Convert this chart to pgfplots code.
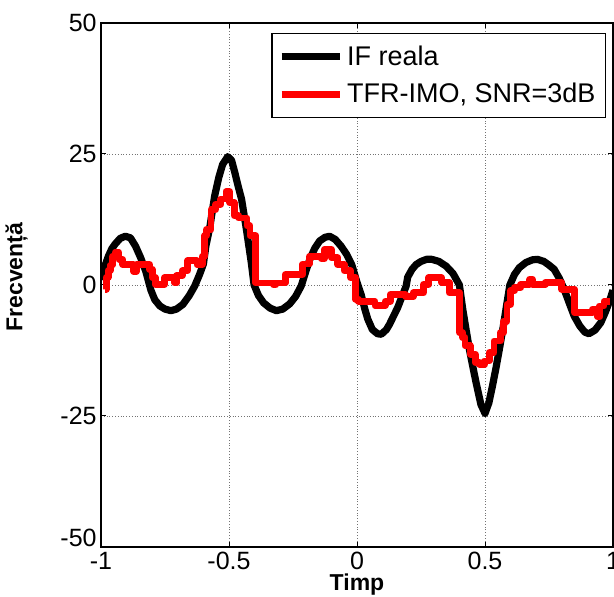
\documentclass[border=0pt]{standalone}
\usepackage{fontspec}
\setmainfont{Liberation Sans}
\usepackage{pgfplots}
\usepackage{pgfplotstable}
\pgfplotsset{compat=1.18}

% IF reala
\pgfplotstableread{
t v
-1.000 1.0
-0.985 3.6
-0.971 5.5
-0.958 6.9
-0.945 7.8
-0.925 8.9
-0.905 9.3
-0.885 9.0
-0.865 7.4
-0.845 5.2
-0.825 2.6
-0.805 -1.0
-0.790 -2.8
-0.770 -4.0
-0.750 -4.6
-0.727 -4.9
-0.705 -4.6
-0.680 -3.7
-0.655 -2.0
-0.634 -0.2
-0.615 2.0
-0.600 4.0
-0.590 7.5
-0.575 11.0
-0.556 17.0
-0.540 20.5
-0.525 23.0
-0.505 24.5
-0.490 23.8
-0.478 21.6
-0.465 19.0
-0.451 16.4
-0.432 10.6
-0.413 4.3
-0.402 0.0
-0.385 -2.0
-0.365 -3.4
-0.340 -4.4
-0.315 -4.9
-0.290 -4.6
-0.263 -3.6
-0.240 -2.2
-0.218 -0.2
-0.200 2.6
-0.185 4.8
-0.165 7.0
-0.146 8.4
-0.125 9.1
-0.107 9.3
-0.085 8.7
-0.062 7.4
-0.040 5.8
-0.020 3.8
0.000 0.5
0.016 -1.8
0.030 -4.5
0.042 -6.5
0.060 -8.5
0.080 -9.3
0.095 -9.4
0.115 -8.5
0.127 -7.5
0.145 -5.7
0.159 -4.3
0.175 -2.3
0.192 -0.2
0.198 1.5
0.215 3.0
0.231 3.9
0.250 4.5
0.272 4.9
0.292 4.9
0.320 4.5
0.348 3.6
0.375 2.2
0.400 0.0
0.413 -4.6
0.426 -8.5
0.439 -12.3
0.452 -15.5
0.465 -18.6
0.484 -22.8
0.500 -24.5
0.515 -22.5
0.529 -19.3
0.543 -15.8
0.556 -12.3
0.570 -8.3
0.582 -4.6
0.597 0.0
0.615 2.0
0.634 3.3
0.660 4.3
0.685 4.8
0.705 4.9
0.730 4.5
0.750 3.8
0.770 3.0
0.790 1.3
0.809 -0.8
0.828 -3.3
0.848 -5.9
0.870 -7.8
0.890 -9.0
0.906 -9.3
0.930 -8.6
0.952 -7.2
0.970 -5.2
0.984 -3.4
1.000 -1.0
}\ifreal

% TFR-IMO estimate, staircase
\pgfplotstableread{
t v
-0.985 -0.8
-0.980 1.5
-0.972 2.8
-0.963 3.8
-0.955 5.5
-0.945 6.2
-0.930 4.9
-0.915 3.9
-0.872 2.6
-0.862 3.9
-0.810 3.0
-0.800 1.4
-0.788 0.1
-0.752 1.4
-0.712 0.4
-0.704 1.8
-0.683 2.7
-0.662 4.6
-0.625 3.9
-0.605 5.5
-0.595 9.4
-0.588 10.6
-0.570 14.4
-0.552 15.4
-0.532 16.4
-0.512 17.8
-0.497 15.7
-0.480 13.2
-0.462 12.8
-0.430 11.3
-0.418 9.4
-0.395 0.4
-0.325 0.0
-0.318 0.4
-0.280 2.0
-0.212 4.0
-0.185 5.5
-0.140 5.0
-0.128 6.8
-0.100 5.2
-0.075 3.9
-0.050 2.7
-0.025 1.4
-0.005 -2.7
0.005 -3.1
0.070 -3.9
0.110 -3.1
0.130 -1.8
0.190 -2.2
0.220 -1.5
0.260 0.1
0.280 1.4
0.330 0.5
0.360 -1.5
0.400 -9.1
0.412 -10.0
0.422 -11.6
0.442 -13.2
0.462 -14.8
0.480 -15.2
0.498 -14.5
0.516 -12.9
0.535 -10.7
0.560 -9.1
0.573 -6.9
0.586 -3.7
0.600 -1.1
0.615 -0.5
0.640 0.1
0.675 1.1
0.685 0.1
0.735 0.5
0.800 -0.8
0.850 -5.3
0.920 -4.6
0.940 -6.1
0.947 -4.0
0.965 -3.1
0.990 -3.1
}\tfrimo

\begin{document}
\begin{tikzpicture}
\begin{axis}[
	name=main,
	scale only axis, width=256pt, height=262pt,
	xmin=-1, xmax=1, ymin=-50, ymax=50,
	xtick={-1,-0.5,0,0.5,1}, xticklabels={-1,-0.5,0,0.5,1},
	ytick={-50,-25,0,25,50},
	yticklabels={\raisebox{4.5pt}[\height][\depth]{-50},-25,0,25,50},
	tick align=inside, major tick length=2.5pt,
	tick style={black, line width=0.5pt},
	axis line style={line width=0.6pt},
	grid=major, grid style={densely dotted, black!55, line width=0.4pt},
	ticklabel style={font=\fontsize{12.5}{14}\selectfont},
	x tick label style={inner sep=2.5pt},
	y tick label style={inner sep=2pt},
	xlabel={Timp}, ylabel={Frecvență},
	label style={font=\bfseries\fontsize{11.5}{13}\selectfont},
	xlabel style={at={(axis description cs:0.5,-0.0720)}, anchor=center},
	ylabel style={at={(axis description cs:-0.165,0.515)}, anchor=center},
	legend style={at={(rel axis cs:1,1)}, anchor=north east, xshift=-3.5pt, yshift=-5pt,
		draw=black, line width=0.6pt, font=\fontsize{13.5}{15}\selectfont,
		inner xsep=3pt, inner ysep=4pt, row sep=3.5pt, cells={anchor=west}},
	legend image code/.code={\draw[#1] (0pt,0pt) -- (29pt,0pt);},
]
\addplot[black, line width=3.6pt, line join=round] table[x=t, y=v] {\ifreal};
\addlegendentry{IF reala}
\addplot[red, line width=3.4pt, const plot, line join=round] table[x=t, y=v] {\tfrimo};
\addlegendentry{TFR-IMO, SNR=3dB}
\end{axis}
\pgfresetboundingbox
\path[use as bounding box] ([shift={(-50.5pt,-25pt)}]main.south west) rectangle ([shift={(0.5pt,11.5pt)}]main.north east);
\end{tikzpicture}
\end{document}
